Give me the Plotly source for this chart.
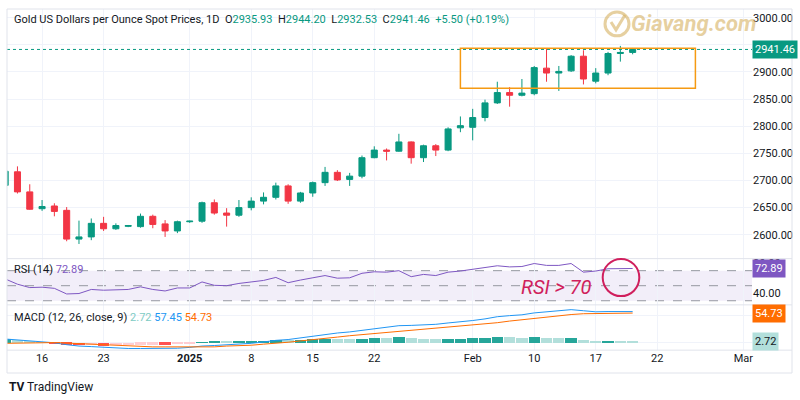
import plotly.graph_objects as go

# ---------------- data ----------------
dates = ["2024-12-11", "2024-12-12", "2024-12-13", "2024-12-16", "2024-12-17", "2024-12-18",
         "2024-12-19", "2024-12-20", "2024-12-23", "2024-12-24", "2024-12-25", "2024-12-26",
         "2024-12-27", "2024-12-30", "2024-12-31", "2025-01-01", "2025-01-02", "2025-01-03",
         "2025-01-06", "2025-01-07", "2025-01-08", "2025-01-09", "2025-01-10", "2025-01-13",
         "2025-01-14", "2025-01-15", "2025-01-16", "2025-01-17", "2025-01-20", "2025-01-21",
         "2025-01-22", "2025-01-23", "2025-01-24", "2025-01-27", "2025-01-28", "2025-01-29",
         "2025-01-30", "2025-01-31", "2025-02-03", "2025-02-04", "2025-02-05", "2025-02-06",
         "2025-02-07", "2025-02-10", "2025-02-11", "2025-02-12", "2025-02-13", "2025-02-14",
         "2025-02-17", "2025-02-18", "2025-02-19", "2025-02-20"]

opens = [2691, 2716, 2679, 2648, 2653, 2645, 2592, 2596, 2621, 2611, 2615.5, 2615,
         2634, 2620, 2607, 2624, 2625, 2659, 2640, 2636, 2650, 2662, 2669, 2690,
         2662, 2677, 2696, 2715, 2702, 2708, 2742, 2756, 2754, 2771, 2742, 2764,
         2756, 2797, 2798, 2816, 2843, 2862, 2857, 2860, 2907, 2898, 2902, 2929,
         2883, 2898, 2934, 2935.93]
highs = [2722, 2726, 2693, 2664, 2658, 2651, 2626, 2630, 2633, 2621, 2618, 2639,
         2637, 2627, 2626, 2626, 2661, 2665, 2649, 2664, 2669, 2678, 2696, 2693,
         2679, 2698, 2725, 2719, 2714, 2746, 2763, 2759, 2786, 2772, 2766, 2767,
         2798, 2818, 2832, 2849, 2882, 2872, 2887, 2911, 2943, 2911, 2931, 2940,
         2907, 2937, 2948, 2944.20]
lows = [2688, 2676, 2646, 2644, 2634, 2588, 2583, 2590, 2607, 2609, 2614, 2613,
        2612, 2596, 2603, 2622, 2622, 2637, 2615, 2633, 2645, 2656, 2665, 2657,
        2659, 2670, 2690, 2699, 2690, 2704, 2741, 2737, 2753, 2731, 2734, 2745,
        2754, 2789, 2774, 2809, 2841, 2836, 2855, 2857, 2882, 2865, 2900, 2877,
        2879, 2894, 2919, 2932.53]
closes = [2717, 2679, 2647, 2652, 2643, 2592, 2596, 2621, 2611, 2617, 2617, 2634,
          2619, 2607, 2624, 2625, 2659, 2640, 2636, 2650, 2662, 2669, 2690, 2662,
          2677, 2696, 2715, 2701, 2708, 2742, 2756, 2754, 2771, 2742, 2764, 2756,
          2795, 2801, 2816, 2843, 2862, 2857, 2861, 2908, 2898, 2901, 2929, 2887,
          2898, 2934, 2935.96, 2941.46]

rsi = [59, 52, 47.5, 48, 46.5, 39, 39.6, 45, 44, 45, 45, 48.5,
       45, 43, 47, 47, 55, 50.5, 50, 53, 55, 57, 61, 54,
       57.5, 60.5, 63.5, 60, 60.5, 66.5, 68.5, 68, 70, 62, 65, 63.5,
       68, 69.5, 71.5, 74.5, 76.5, 75, 75.5, 79.5, 77, 77, 79.5, 68,
       69.5, 72.5, 72.5, 72.89]

macd = [7, 5, 3, 1.5, 0, -3.5, -6, -7, -8.5, -9.5, -10.5, -10.5,
        -10.5, -11, -10, -8.5, -6, -5, -4, -2.5, -1, 1.5, 4.5, 6,
        9, 12, 16, 18, 20, 23, 26, 28, 31.5, 32, 33, 34,
        36.5, 38.5, 41, 44, 48, 50, 51.5, 55, 57, 58.5, 61, 59,
        57, 57.5, 57.5, 57.45]
signal = [-1, -1, -0.5, 0, 0.5, -0.5, -1.5, -3, -3.5, -5, -6.5, -7,
          -7.5, -7.5, -7.5, -7.5, -7.5, -7.5, -6, -5.5, -4.5, -2.5, -1, 1,
          3.5, 5.5, 8, 10.5, 13, 15, 17, 19.5, 21.5, 23.5, 25.5, 27.5,
          29, 30.5, 32.5, 34.5, 37, 40, 42.5, 45, 48, 50, 52, 53.5,
          54, 54, 54.5, 54.73]
hist = [8, 6, 3.5, 1.5, -0.5, -3, -4.5, -4, -5, -4.5, -4, -3.5,
        -3, -3.5, -2.5, -1, 1.5, 2.5, 2, 3, 3.5, 4, 5.5, 5,
        5.5, 6.5, 8, 7.5, 7, 8, 9, 8.5, 10, 8.5, 7.5, 6.5,
        7.5, 8, 8.5, 9.5, 11, 10, 9, 10, 9, 8.5, 9, 5.5,
        3, 3.5, 3, 2.72]

tick_pos = [3, 8, 15, 20, 25, 30, 38, 43, 48, 53, 60]
tick_text = ["16", "23", "<b>2025</b>", "8", "15", "22", "Feb", "10", "17", "22", "Mar"]
price_ticks = [2600, 2650, 2700, 2750, 2800, 2850, 2900, 2950, 3000]

x = list(range(len(dates)))

# ---------------- helpers (pixel -> paper) ----------------
L, R, T, B = 7, 752, 7, 373
def px(v):
    return (v - L) / (R - L)
def py(v):
    return (B - v) / (B - T)

UP = "#089981"
DN = "#f23645"
GRID = "#f0f3fa"

hist_colors = []
for i, h in enumerate(hist):
    prev = hist[i - 1] if i > 0 else h - 1
    if h >= 0:
        hist_colors.append("#26a69a" if h >= prev else "#b2dfdb")
    else:
        hist_colors.append("#ff5252" if h < prev else "#ffcdd2")

fig = go.Figure()

fig.add_trace(go.Candlestick(
    x=x, open=opens, high=highs, low=lows, close=closes,
    increasing=dict(line=dict(color=UP, width=1), fillcolor=UP),
    decreasing=dict(line=dict(color=DN, width=1), fillcolor=DN),
    whiskerwidth=0, xaxis="x", yaxis="y", hoverinfo="skip"))

fig.add_trace(go.Scatter(x=x, y=rsi, mode="lines", line=dict(color="#7e57c2", width=1),
                         xaxis="x2", yaxis="y2", hoverinfo="skip"))

fig.add_trace(go.Bar(x=x, y=hist, marker=dict(color=hist_colors, line=dict(width=0)),
                     width=0.92, xaxis="x3", yaxis="y3", hoverinfo="skip"))
fig.add_trace(go.Scatter(x=x, y=macd, mode="lines", line=dict(color="#2196f3", width=1),
                         xaxis="x3", yaxis="y3", hoverinfo="skip"))
fig.add_trace(go.Scatter(x=x, y=signal, mode="lines", line=dict(color="#ff6d00", width=1),
                         xaxis="x3", yaxis="y3", hoverinfo="skip"))

xcommon = dict(range=[0.15, 60.7], tickvals=tick_pos, showgrid=True, gridcolor=GRID,
               zeroline=False, showline=False, ticks="")

fig.update_layout(
    width=800, height=400,
    margin=dict(l=L, r=800 - R, t=T, b=400 - B),
    paper_bgcolor="white", plot_bgcolor="white",
    showlegend=False, bargap=0, hovermode=False,
    font=dict(family="Roboto", size=11, color="#131722"),
    xaxis=dict(anchor="y", showticklabels=False, rangeslider=dict(visible=False), **xcommon),
    xaxis2=dict(anchor="y2", matches="x", showticklabels=False, **xcommon),
    xaxis3=dict(anchor="y3", matches="x", showticklabels=True, ticktext=tick_text,
                tickfont=dict(size=11, color="#131722"), **xcommon),
    yaxis=dict(domain=[py(258), 1], side="right", range=[2556, 3016],
               tickvals=price_ticks, ticktext=[f"{v:.2f}" for v in price_ticks],
               showgrid=True, gridcolor=GRID, zeroline=False, ticks="",
               tickfont=dict(size=11, color="#131722")),
    yaxis2=dict(domain=[py(304.5), py(258)], side="right", range=[24.5, 86],
                tickvals=[40, 80], ticktext=["40.00", "80.00"], showgrid=False,
                zeroline=False, ticks="", tickfont=dict(size=11, color="#131722")),
    yaxis3=dict(domain=[py(350), py(304.5)], side="right", range=[-13.5, 69.8],
                tickvals=[0, 50], showticklabels=False, showgrid=True, gridcolor=GRID,
                zeroline=False, ticks=""),
)

shapes = []
# RSI band and levels
shapes.append(dict(type="rect", xref="paper", x0=0, x1=1, yref="y2", y0=30, y1=70,
                   fillcolor="rgba(126,87,194,0.10)", line=dict(width=0), layer="below"))
for lv in (30, 50, 70):
    shapes.append(dict(type="line", xref="paper", x0=0, x1=1, yref="y2", y0=lv, y1=lv,
                       line=dict(color="#9598a1", width=1, dash="dash"), layer="below"))
# last-price dotted line
shapes.append(dict(type="line", xref="paper", x0=0, x1=1, yref="y", y0=closes[-1], y1=closes[-1],
                   line=dict(color=UP, width=1, dash="dot")))
# orange consolidation box
shapes.append(dict(type="rect", xref="x", x0=37, x1=56.1, yref="y", y0=2870, y1=2943.7,
                   line=dict(color="#f59a13", width=1.5), fillcolor="rgba(0,0,0,0)"))
# chart frame and pane separators
shapes.append(dict(type="rect", xref="paper", yref="paper", x0=px(7), x1=px(792), y0=py(373), y1=py(7),
                   line=dict(color="#e0e3eb", width=1)))
for yy in (258, 304.5, 350):
    shapes.append(dict(type="line", xref="paper", yref="paper", x0=px(7), x1=px(792), y0=py(yy), y1=py(yy),
                       line=dict(color="#e0e3eb", width=1)))
# RSI circle
shapes.append(dict(type="circle", xref="paper", yref="paper", x0=px(602.7), x1=px(639.3),
                   y0=py(295.7), y1=py(258.3), line=dict(color="#d01f5d", width=2)))
# watermark logo circle and check
shapes.append(dict(type="circle", xref="paper", yref="paper", x0=px(605), x1=px(629),
                   y0=py(34), y1=py(10), line=dict(color="rgba(214,176,96,0.6)", width=3)))
shapes.append(dict(type="path", xref="paper", yref="paper",
                   path=f"M {px(611)} {py(20)} L {px(616)} {py(28)} L {px(625)} {py(13)}",
                   line=dict(color="rgba(214,176,96,0.6)", width=3)))
fig.update_layout(shapes=shapes)

G = "#089981"
S = "\u00a0"
header = ("Gold US Dollars per Ounce Spot Prices, 1D" + S * 2 +
          f"O<span style='color:{G}'>{opens[-1]:.2f}</span>" + S * 2 +
          f"H<span style='color:{G}'>{highs[-1]:.2f}</span>" + S * 2 +
          f"L<span style='color:{G}'>{lows[-1]:.2f}</span>" + S * 2 +
          f"C<span style='color:{G}'>{closes[-1]:.2f}</span>" + S * 2 +
          f"<span style='color:{G}'>+5.50 (+0.19%)</span>")

ann = []
ann.append(dict(text=header, xref="paper", yref="paper", x=px(12), y=py(18), xanchor="left",
                yanchor="middle", showarrow=False, font=dict(size=11, color="#131722")))
ann.append(dict(text=f"RSI (14)" + S + f"<span style='color:#7e57c2'>{rsi[-1]:.2f}</span>",
                xref="paper", yref="paper", x=px(12), y=py(269), xanchor="left", yanchor="middle",
                showarrow=False, font=dict(size=11, color="#131722")))
ann.append(dict(text="MACD (12, 26, close, 9)" + S +
                f"<span style='color:#80cbc4'>{hist[-1]:.2f}</span>" + S +
                f"<span style='color:#2196f3'>{macd[-1]:.2f}</span>" + S +
                f"<span style='color:#ff6d00'>{signal[-1]:.2f}</span>",
                xref="paper", yref="paper", x=px(12), y=py(317), xanchor="left", yanchor="middle",
                showarrow=False, font=dict(size=11, color="#131722")))
# right-axis value boxes
def valbox(val, yref, bg, fg):
    return dict(text=f"{val:.2f}", xref="paper", yref=yref, x=1, y=val, xanchor="left",
                yanchor="middle", xshift=0, showarrow=False, bgcolor=bg, borderpad=2,
                font=dict(size=11, color=fg))
ann.append(valbox(closes[-1], "y", UP, "white"))
ann.append(valbox(rsi[-1], "y2", "#7e57c2", "white"))
ann.append(valbox(signal[-1], "y3", "#ff6d00", "white"))
ann.append(valbox(hist[-1], "y3", "#b2dfdb", "#131722"))
# RSI > 70 note
ann.append(dict(text="<i>RSI &gt; 70</i>", xref="paper", yref="paper", x=px(556), y=py(287),
                xanchor="center", yanchor="middle", showarrow=False,
                font=dict(size=20, color="#d01f5d", family="Roboto")))
# watermark
ann.append(dict(text="<b><i>Giavang.com</i></b>", xref="paper", yref="paper", x=px(694), y=py(22),
                xanchor="center", yanchor="middle", showarrow=False,
                font=dict(size=22, color="rgba(214,176,96,0.6)", family="Roboto")))
# TradingView logo
ann.append(dict(text="<b>TV</b> TradingView", xref="paper", yref="paper", x=px(7), y=py(387),
                xanchor="left", yanchor="middle", showarrow=False,
                font=dict(size=12, color="#131722", family="Roboto")))
fig.update_layout(annotations=ann)

fig.write_html("out.html", config={"displayModeBar": False},
               post_script="document.body.style.margin='0';")
